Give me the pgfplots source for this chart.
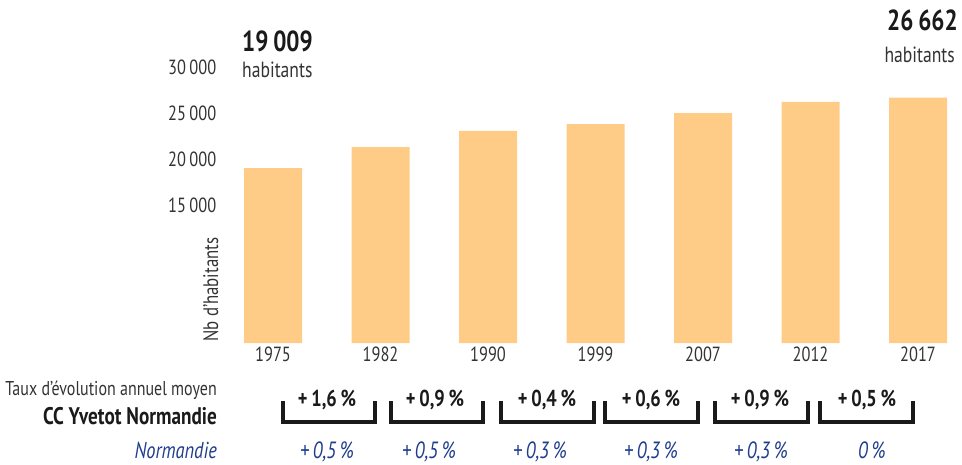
\documentclass[border=0pt]{standalone}
\usepackage{fontspec}
\setmainfont{PT Sans}[FakeStretch=0.8]
\usepackage{pgfplots}
\pgfplotsset{compat=1.18}
\definecolor{barc}{HTML}{FFCC88}
\definecolor{txt}{HTML}{333333}
\definecolor{navy}{HTML}{1F3D8C}
\definecolor{blk}{HTML}{1A1A1A}
\begin{document}
\begin{tikzpicture}
\begin{axis}[at={(240.75pt,-343pt)}, anchor=south west, scale only axis,
  width=709.5pt, height=276pt,
  xmin=-0.3, xmax=6.3, ymin=0, ymax=30000,
  scaled y ticks=false,
  axis line style={draw=none}, major tick length=0pt,
  xtick={0,1,2,3,4,5,6},
  xticklabels={1975,1982,1990,1999,2007,2012,2017},
  ytick={15000,20000,25000,30000},
  yticklabels={15\,000,20\,000,25\,000,30\,000},
  ticklabel style={font=\fontsize{20.5}{24}\selectfont, text=txt},
  yticklabel style={xshift=-21pt},
  ybar, bar width=58pt, clip=false]
\addplot[fill=barc, draw=none] coordinates {(0,19009) (1,21300) (2,23050) (3,23800) (4,25000) (5,26200) (6,26662)};
\end{axis}
\begin{scope}[every node/.style={inner sep=0pt}]
\node[anchor=base west, font=\fontsize{29}{32}\selectfont\bfseries, text=blk] at (242pt,-51.7pt) {19\,009};
\node[anchor=base west, font=\fontsize{22}{26}\selectfont, text=txt] at (242pt,-77pt) {habitants};
\node[anchor=base east, font=\fontsize{29}{32}\selectfont\bfseries, text=blk] at (958pt,-30pt) {26\,662};
\node[anchor=base east, font=\fontsize{22}{26}\selectfont, text=txt] at (955pt,-62.5pt) {habitants};
\node[rotate=90, anchor=base west, font=\fontsize{21}{24}\selectfont, text=txt] at (218pt,-342pt) {Nb d’habitants};
\node[anchor=base east, font=\fontsize{20}{24}\selectfont, text=txt] at (217pt,-395pt) {Taux d’évolution annuel moyen};
\node[anchor=base east, font=\fontsize{24}{28}\selectfont\bfseries, text=blk] at (217pt,-424pt) {CC Yvetot Normandie};
\node[anchor=base east, font=\fontsize{23}{26}\selectfont\itshape, text=navy] at (217pt,-458pt) {Normandie};
% brackets
\foreach \a/\b in {283/375,391/483,501/594,605/698,715/808,820/913}{
  \draw[line width=4pt, blk, line join=miter] (\a pt,-401pt) -- (\a pt,-422pt) -- (\b pt,-422pt) -- (\b pt,-401pt);
}
\foreach \x/\t in {327/{+\,1,6\,\%},435/{+\,0,9\,\%},547/{+\,0,4\,\%},651/{+\,0,6\,\%},760/{+\,0,9\,\%},867/{+\,0,5\,\%}}{
  \node[anchor=base, font=\fontsize{23}{26}\selectfont\bfseries, text=blk] at (\x pt,-406pt) {\t};
}
\foreach \x/\t in {327/{+\,0,5\,\%},429/{+\,0,5\,\%},540/{+\,0,3\,\%},651/{+\,0,3\,\%},761/{+\,0,3\,\%},872/{0\,\%}}{
  \node[anchor=base, font=\fontsize{23.5}{26}\selectfont\itshape, text=navy] at (\x pt,-458pt) {\t};
}
\end{scope}
\pgfresetboundingbox
\path[use as bounding box] (0pt,0pt) rectangle (962pt,-464pt);
\end{tikzpicture}
\end{document}
